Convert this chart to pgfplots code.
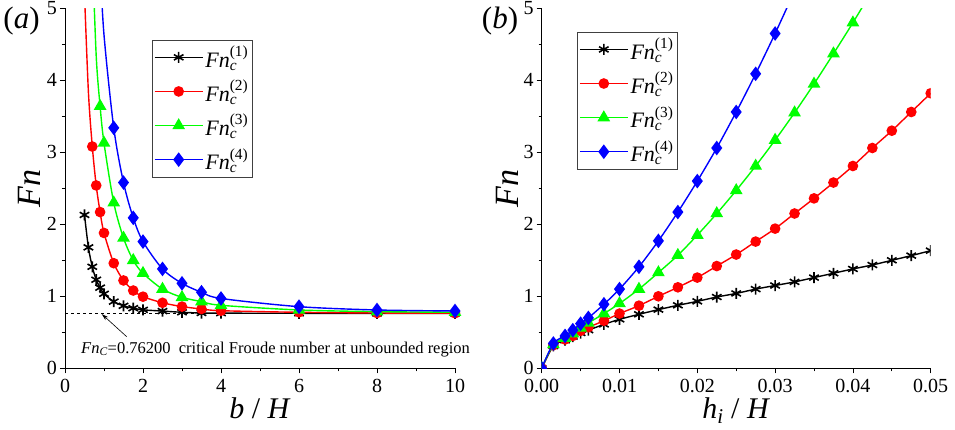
\documentclass[border=0pt]{standalone}
\usepackage{fontspec}
\setmainfont{Liberation Serif}
\usepackage{amsmath}
\usepackage{pgfplots}
\pgfplotsset{compat=1.18}
\usetikzlibrary{arrows.meta}

\newcommand{\Fnc}[1]{\textit{Fn}$_{\textit{c}}^{\text{(#1)}}$}

\pgfplotsset{
  myaxis/.style={
    scale only axis, height=360pt,
    axis lines*=left,
    axis line style={line width=0.8pt, black},
    tick align=outside,
    major tick length=5pt, minor tick length=3pt,
    every tick/.style={black, line width=0.8pt},
    ymin=0, ymax=5, ytick={0,1,2,3,4,5}, minor y tick num=1,
    tick label style={font=\fontsize{20}{24}\selectfont},
    yticklabel style={inner xsep=3pt, inner ysep=0pt},
    xticklabel style={inner ysep=0pt, yshift=-6pt},
    /pgf/number format/assume math mode=true,
    label style={font=\fontsize{30}{36}\selectfont},
    ylabel={\textit{Fn}},
    legend cell align=left,
    legend style={anchor=north west, draw=black!75, line width=0.8pt,
      font=\fontsize{22}{25}\selectfont, row sep=7.5pt,
      inner xsep=2pt, inner ysep=4pt},
    legend image code/.code={\draw[##1, mark indices={2}] plot coordinates {(0pt,0pt) (24pt,0pt) (48pt,0pt)};},
  },
  sblack/.style={black, line width=1.4pt, mark=asterisk, mark size=5.5pt, mark options={line width=1.6pt}},
  sred/.style={red, line width=1.4pt, mark=*, mark size=4.6pt, mark options={solid, fill=red}},
  sgreen/.style={green, line width=1.4pt, mark=triangle*, mark size=6pt, mark options={solid, fill=green}},
  sblue/.style={blue, line width=1.4pt, mark=diamond*, mark size=6.2pt, mark options={solid, fill=blue}},
}

\begin{document}
\begin{tikzpicture}
\useasboundingbox (0pt,0pt) rectangle (955pt,429pt);

% ---------------- (a) ----------------
\begin{axis}[myaxis,
  at={(65pt,60.7pt)}, anchor=south west, width=390pt,
  xmin=0, xmax=10, xtick={0,2,4,6,8,10}, minor x tick num=1,
  xlabel={\textit{b} / \textit{H}},
  xlabel style={at={(axis description cs:0.5,-0.139)}, anchor=base},
  ylabel style={at={(axis description cs:-0.092,0.5)}, anchor=center, font=\fontsize{34}{40}\selectfont},
  legend style={at={(0.222,0.913)}},
]
\addplot[black, dashed, line width=0.6pt, forget plot] coordinates {(0,0.762) (10,0.762)};
\addplot[sblack, smooth] coordinates {
 (0.5,2.13) (0.6,1.68) (0.7,1.41) (0.8,1.23) (0.9,1.12) (1.0,1.035)
 (1.25,0.926) (1.5,0.868) (1.75,0.835) (2,0.812) (2.5,0.795) (3,0.778)
 (3.5,0.768) (4,0.766) (6,0.764) (8,0.763) (10,0.763)};
\addlegendentry{\Fnc{1}}
\addplot[sred, smooth, mark indices={2,3,4,5,6,7,8,9,10,11,12,13,14,15,16,17}] coordinates {
 (0.5,5.2) (0.6,3.84) (0.7,3.08) (0.8,2.54) (0.9,2.17) (1.0,1.88)
 (1.25,1.46) (1.5,1.22) (1.75,1.08) (2,0.995) (2.5,0.91) (3,0.857)
 (3.5,0.824) (4,0.80) (6,0.778) (8,0.768) (10,0.765)};
\addlegendentry{\Fnc{2}}
\addplot[sgreen, smooth, mark indices={2,3,4,5,6,7,8,9,10,11,12,13,14,15}] coordinates {
 (0.7,5.8) (0.8,4.34) (0.9,3.64) (1.0,3.13) (1.25,2.30) (1.5,1.81)
 (1.75,1.50) (2,1.32) (2.5,1.10) (3,0.986) (3.5,0.926) (4,0.875)
 (6,0.81) (8,0.787) (10,0.778)};
\addlegendentry{\Fnc{3}}
\addplot[sblue, smooth, mark indices={2,3,4,5,6,7,8,9,10,11,12,13}] coordinates {
 (0.9,5.6) (1.0,4.63) (1.25,3.34) (1.5,2.58) (1.75,2.09) (2,1.76)
 (2.5,1.38) (3,1.18) (3.5,1.056) (4,0.97) (6,0.856) (8,0.81) (10,0.796)};
\addlegendentry{\Fnc{4}}
\end{axis}

\draw[-{Stealth[length=7pt,width=4pt]}, line width=0.6pt] (126.7pt,92.3pt) -- (101.7pt,115pt);
\node[anchor=base west, inner sep=0pt, font=\fontsize{16.5}{20}\selectfont] at (81pt,75.7pt)
  {\textit{Fn}$_{\textit{C}}$=0.76200\ \ critical Froude number at unbounded region};

\node[font=\fontsize{31}{36}\selectfont, inner sep=0pt] at (21.5pt,408pt) {(\textit{a})};

% ---------------- (b) ----------------
\begin{axis}[myaxis,
  at={(541.7pt,60.7pt)}, anchor=south west, width=389pt,
  clip marker paths=true,
  xmin=0, xmax=0.05, xtick={0,0.01,0.02,0.03,0.04,0.05}, minor x tick num=1,
  xticklabel style={/pgf/number format/.cd, fixed, fixed zerofill, precision=2},
  scaled x ticks=false,
  xlabel={\textit{h}$_{\textit{i}}$ / \textit{H}},
  xlabel style={at={(axis description cs:0.5,-0.139)}, anchor=base},
  ylabel style={at={(axis description cs:-0.088,0.5)}, anchor=center, font=\fontsize{34}{40}\selectfont},
  legend style={at={(0.09,0.935)}},
]
\addplot[sblack, smooth] coordinates {
 (0,0) (0.0015,0.31) (0.003,0.39) (0.004,0.44) (0.005,0.49) (0.006,0.53)
 (0.008,0.61) (0.01,0.68) (0.0125,0.75) (0.015,0.815) (0.0175,0.875)
 (0.02,0.93) (0.0225,0.99) (0.025,1.04) (0.0275,1.10) (0.03,1.15)
 (0.0325,1.20) (0.035,1.26) (0.0375,1.32) (0.04,1.38) (0.0425,1.435)
 (0.045,1.50) (0.0475,1.565) (0.05,1.634)};
\addlegendentry{\Fnc{1}}
\addplot[sred, smooth] coordinates {
 (0,0) (0.0015,0.32) (0.003,0.40) (0.004,0.45) (0.005,0.52) (0.006,0.57)
 (0.008,0.66) (0.01,0.76) (0.0125,0.87) (0.015,1.0) (0.0175,1.125)
 (0.02,1.26) (0.0225,1.42) (0.025,1.58) (0.0275,1.76) (0.03,1.94)
 (0.0325,2.15) (0.035,2.36) (0.0375,2.58) (0.04,2.81) (0.0425,3.06)
 (0.045,3.30) (0.0475,3.56) (0.05,3.82)};
\addlegendentry{\Fnc{2}}
\addplot[sgreen, smooth] coordinates {
 (0,0) (0.0015,0.33) (0.003,0.42) (0.004,0.48) (0.005,0.56) (0.006,0.63)
 (0.008,0.76) (0.01,0.90) (0.0125,1.10) (0.015,1.33) (0.0175,1.57)
 (0.02,1.85) (0.0225,2.15) (0.025,2.47) (0.0275,2.81) (0.03,3.17)
 (0.0325,3.55) (0.035,3.95) (0.0375,4.37) (0.04,4.80) (0.0425,5.25)};
\addlegendentry{\Fnc{3}}
\addplot[sblue, smooth] coordinates {
 (0,0) (0.0015,0.345) (0.003,0.45) (0.004,0.53) (0.005,0.62) (0.006,0.70)
 (0.008,0.89) (0.01,1.10) (0.0125,1.41) (0.015,1.77) (0.0175,2.17)
 (0.02,2.60) (0.0225,3.06) (0.025,3.56) (0.0275,4.09) (0.03,4.65)
 (0.0325,5.24)};
\addlegendentry{\Fnc{4}}
\end{axis}

\node[font=\fontsize{31}{36}\selectfont, inner sep=0pt] at (500pt,408pt) {(\textit{b})};
\end{tikzpicture}
\end{document}
